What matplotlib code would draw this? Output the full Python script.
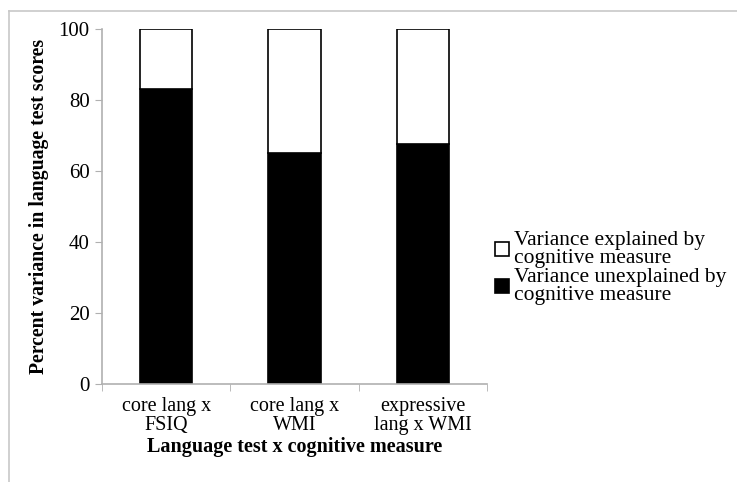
import numpy as np
import matplotlib.pyplot as plt
from matplotlib.lines import Line2D

categories = ['core lang x\nFSIQ', 'core lang x\nWMI', 'expressive\nlang x WMI']
unexplained = [83, 65, 67.5]
explained = [100 - v for v in unexplained]
yticks = [0, 20, 40, 60, 80, 100]

plt.rcParams['font.family'] = ['Liberation Serif', 'DejaVu Serif']
axis_grey = '#b0b0b0'

fig = plt.figure(figsize=(7.37, 4.82), dpi=100)
ax = fig.add_axes([102/737, 1 - 384/482, 385/737, 355/482])

x = np.arange(len(categories))
b1 = ax.bar(x, unexplained, width=0.41, color='black', edgecolor='black', linewidth=1.2,
            label='Variance unexplained by\ncognitive measure')
b2 = ax.bar(x, explained, bottom=unexplained, width=0.41, color='white', edgecolor='black',
            linewidth=1.2, label='Variance explained by\ncognitive measure')

ax.set_xlim(-0.5, len(categories) - 0.5)
ax.set_ylim(0, 100)
ax.set_yticks(yticks)
ax.set_xticks(x)
ax.set_xticklabels(categories, fontsize=14.5, linespacing=1.05)
ax.tick_params(axis='y', labelsize=15, length=5, color=axis_grey, pad=4)
ax.tick_params(axis='x', length=0, pad=9)
# category separators below the axis, like excel
ax.set_xticks(np.arange(len(categories) + 1) - 0.5, minor=True)
ax.tick_params(axis='x', which='minor', length=5, color=axis_grey)

for s in ['top', 'right']:
    ax.spines[s].set_visible(False)
for s in ['left', 'bottom']:
    ax.spines[s].set_color(axis_grey)
    ax.spines[s].set_linewidth(1.2)

ax.set_ylabel('Percent variance in language test scores', fontsize=14.2, fontweight='bold', labelpad=7)
ax.set_xlabel('Language test x cognitive measure', fontsize=14.5, fontweight='bold', labelpad=1)

ax.legend(handles=[b2, b1], loc='center left', bbox_to_anchor=(495/737, 1 - 268/482),
          bbox_transform=fig.transFigure, frameon=False,
          handlelength=0.65, handleheight=0.65, handletextpad=0.25, labelspacing=0.0,
          borderpad=0, borderaxespad=0, prop={'size': 15.5, 'family': 'Liberation Serif'})
for t in ax.get_legend().get_texts():
    t.set_linespacing(0.95)

# outer frame (top and left edges)
fig.add_artist(Line2D([9/737, 9/737], [0, 1 - 11/482], color='#c8c8c8', lw=1.2))
fig.add_artist(Line2D([9/737, 1], [1 - 11/482, 1 - 11/482], color='#c8c8c8', lw=1.2))

fig.savefig('out.png', dpi=100)
